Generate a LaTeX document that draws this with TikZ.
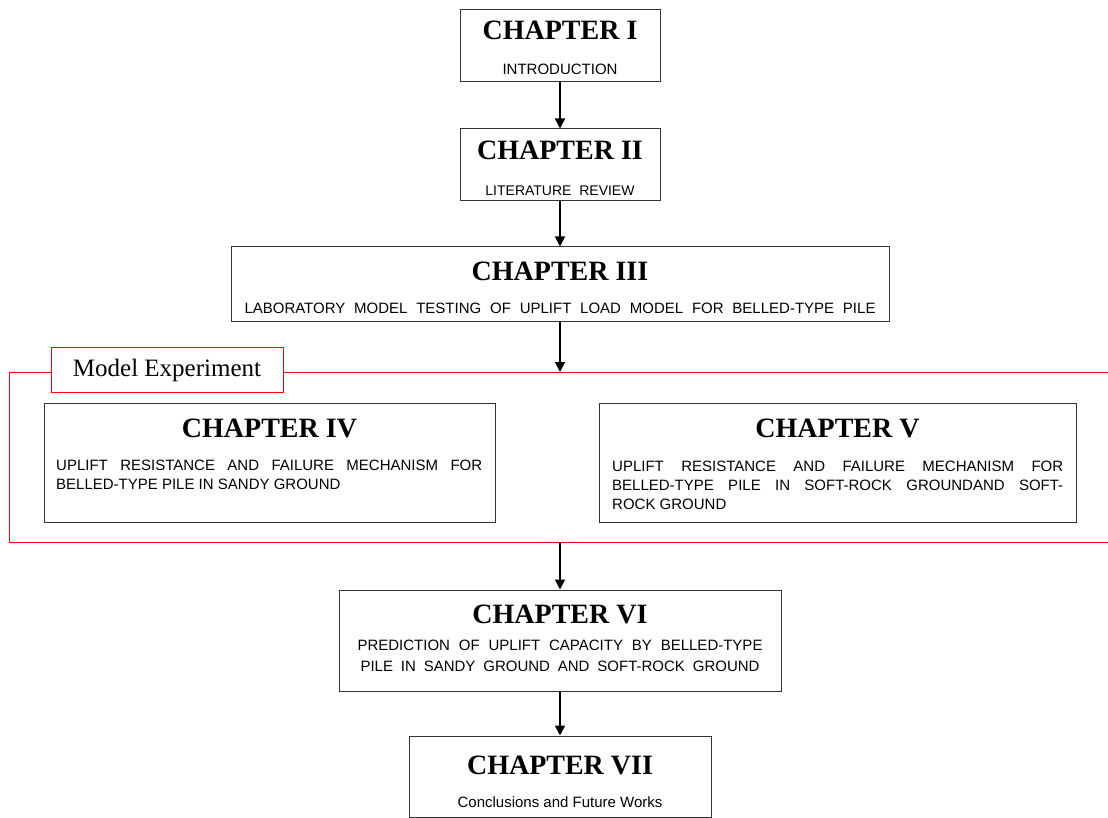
\documentclass[tikz,border=0pt]{standalone}
\usepackage{fontspec}
\setmainfont{Liberation Serif}
\newfontfamily\arialfont{Liberation Sans}
\usetikzlibrary{arrows.meta}
\definecolor{edge}{HTML}{333333}
\begin{document}
\begin{tikzpicture}[x=1pt,y=-1pt,
  box/.style={draw=edge,line width=1pt,inner sep=0pt},
  title/.style={font=\fontsize{28}{30}\selectfont\bfseries,anchor=base,inner sep=0pt},
  body/.style={font=\arialfont\fontsize{15}{19}\selectfont,anchor=base,inner sep=0pt},
  bodyw/.style={body,anchor=base west},
  flow/.style={-{Triangle[length=10pt,width=10pt]},line width=1.6pt},
  frame/.style={draw=red,line width=1pt}]
\useasboundingbox (0,0) rectangle (1108,818);
\fill[white] (0,0) rectangle (1108,818);

% boxes
\node[box,minimum width=200pt,minimum height=72pt] (c1) at (560,46) {};
\node[box,minimum width=200pt,minimum height=72pt] (c2) at (560,165) {};
\node[box,minimum width=658pt,minimum height=74pt] (c3) at (560,284) {};
\node[box,minimum width=451pt,minimum height=119pt] (c4) at (269.5,462.5) {};
\node[box,minimum width=477pt,minimum height=119pt] (c5) at (837.5,462.5) {};
\node[box,minimum width=442pt,minimum height=101pt] (c6) at (560,640.5) {};
\node[box,minimum width=302pt,minimum height=81pt] (c7) at (560,776.5) {};

% titles
\node[title] (h1) at (560,40) {CHAPTER I};
\node[title] (h2) at (560,160) {CHAPTER II};
\node[title] (h3) at (560,280) {CHAPTER III};
\node[title] (h4) at (269.5,437) {CHAPTER IV};
\node[title] (h5) at (837.5,437) {CHAPTER V};
\node[title] (h6) at (560,623) {CHAPTER VI};
\node[title] (h7) at (560,774) {CHAPTER VII};

% texts
\node[body,font=\arialfont\fontsize{15}{18}\selectfont] (t1) at (560,75) {INTRODUCTION};
\node[body,font=\arialfont\fontsize{14}{16}\selectfont] (t2) at (560,196) {LITERATURE~~REVIEW};
\node[body] (t3) at (560,313) {\makebox[631pt][s]{LABORATORY MODEL TESTING OF UPLIFT LOAD MODEL FOR BELLED-TYPE PILE}};
\node[bodyw] (t4a) at (56,470) {\makebox[426pt][s]{UPLIFT RESISTANCE AND FAILURE MECHANISM FOR}};
\node[bodyw] (t4b) at (56,489) {BELLED-TYPE PILE IN SANDY GROUND};
\node[bodyw] (t5a) at (612,471) {\makebox[451pt][s]{UPLIFT RESISTANCE AND FAILURE MECHANISM FOR}};
\node[bodyw] (t5b) at (612,490) {\makebox[451pt][s]{BELLED-TYPE PILE IN SOFT-ROCK GROUNDAND SOFT-}};
\node[bodyw] (t5c) at (612,509) {ROCK GROUND};
\node[body] (t6a) at (560,650) {\makebox[405pt][s]{PREDICTION OF UPLIFT CAPACITY BY BELLED-TYPE}};
\node[body] (t6b) at (560,671) {\makebox[399pt][s]{PILE IN SANDY GROUND AND SOFT-ROCK GROUND}};
\node[body] (t7) at (560,807) {Conclusions and Future Works};

% model experiment frame
\node[draw=red,line width=1pt,minimum width=232pt,minimum height=45pt,inner sep=0pt,
      font=\fontsize{25}{27}\selectfont] (me) at (167,370) {Model Experiment};
\coordinate (ftop) at (560,372);
\coordinate (fbot) at (560,542);
\coordinate (fl1) at (9,372);
\coordinate (fl2) at (9,542);
\coordinate (fr1) at (1112,372);
\coordinate (fr2) at (1112,542);
\draw[frame] (me.west |- fl1) -- (fl1) -- (fl2) -- (fr2);
\draw[frame] (me.east |- fr1) -- (fr1);

% connectors
\draw[flow] (c1.south) -- (c2.north);
\draw[flow] (c2.south) -- (c3.north);
\draw[flow] (c3.south) -- (ftop);
\draw[flow] (fbot) -- (c6.north);
\draw[flow] (c6.south) -- (c7.north);
\end{tikzpicture}
\end{document}
